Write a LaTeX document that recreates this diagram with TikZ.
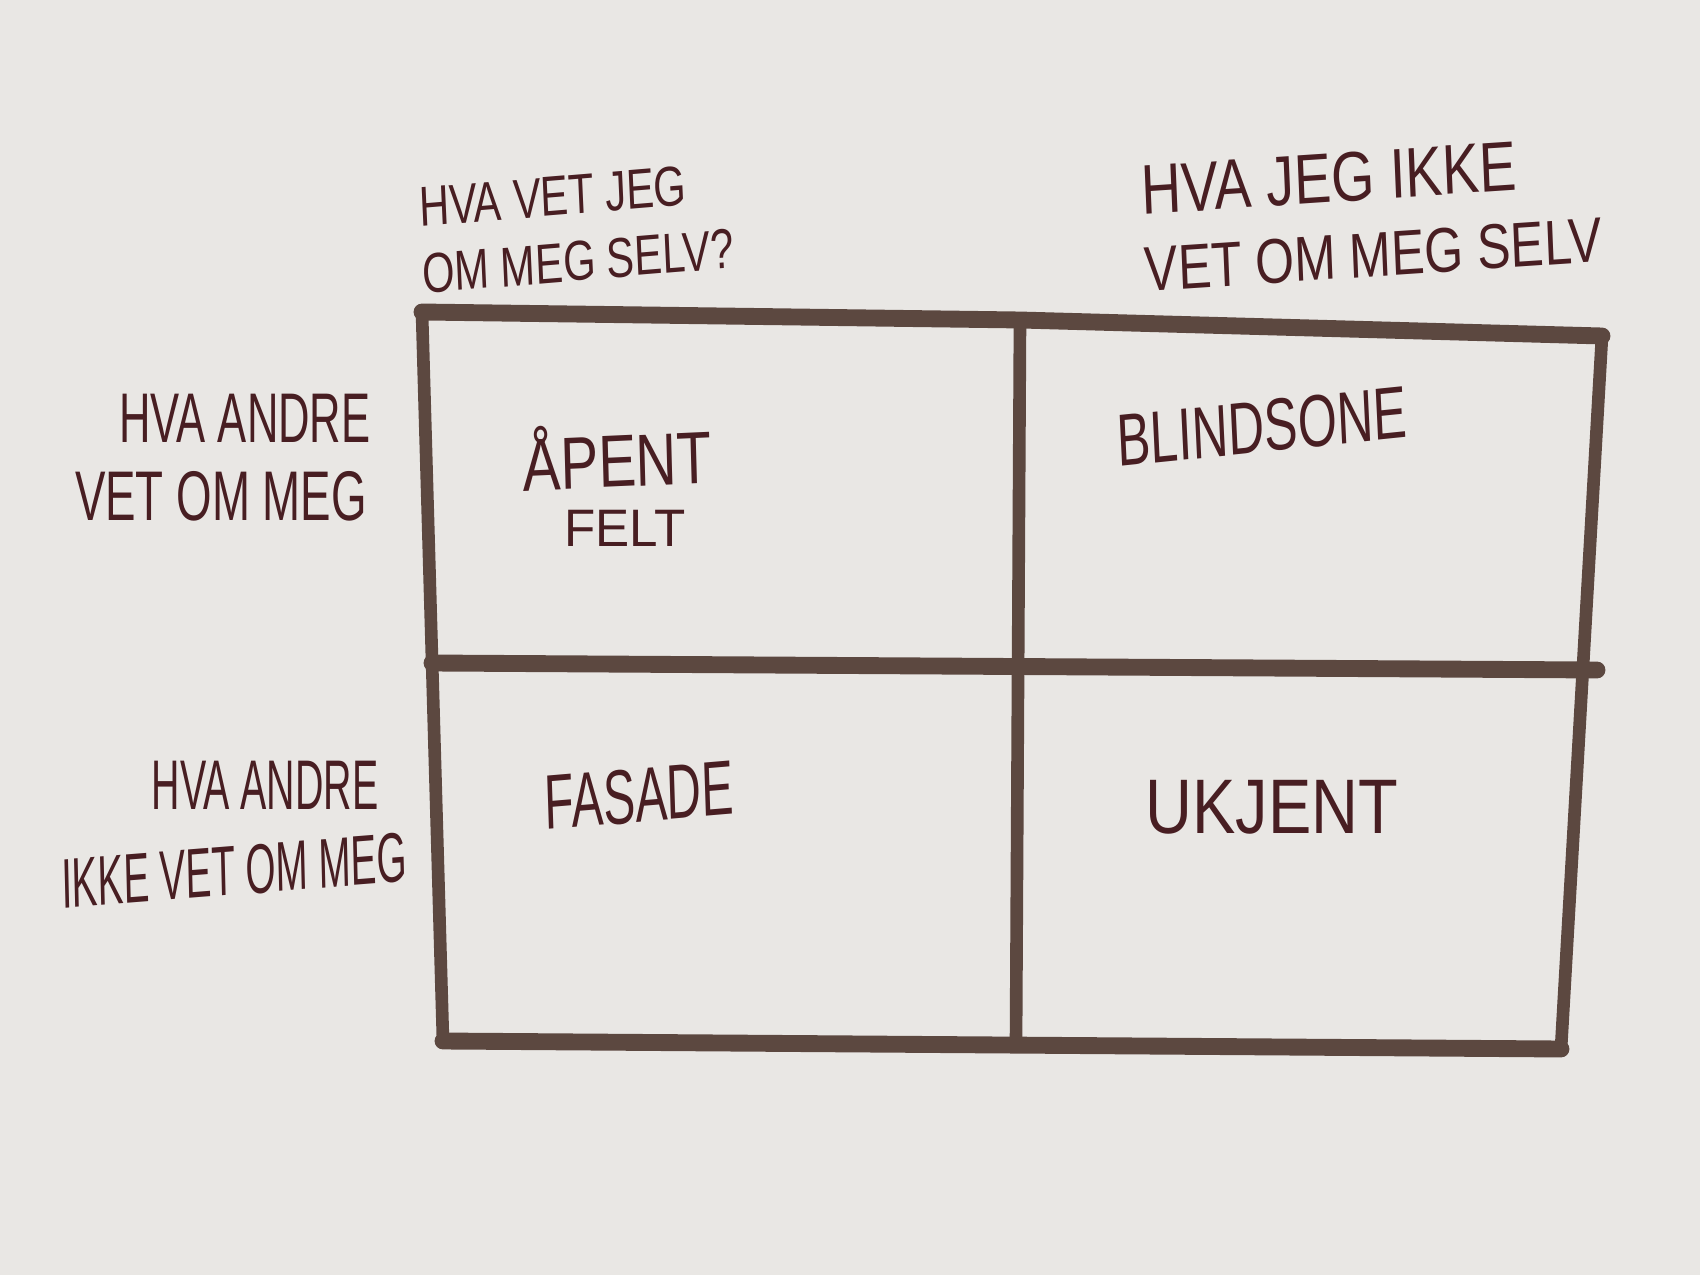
\documentclass[tikz,border=0pt]{standalone}
\usepackage{fontspec}
\setmainfont{Liberation Sans}
\definecolor{paper}{RGB}{233,231,228}
\definecolor{crayon}{RGB}{92,72,64}
\definecolor{ink}{RGB}{72,30,34}
\tikzset{
  marker/.style={line width=4.8pt,color=crayon,line cap=round},
  thinmarker/.style={marker,line width=3.6pt},
  hand/.style={text=ink,font=\fontsize{22}{26}\selectfont,anchor=base,
    inner sep=0pt,transform shape,xscale=#1},
  hand/.default=.62,
  smallhand/.style={font=\fontsize{#1}{#1}\selectfont}
}
\begin{document}
\begin{tikzpicture}[scale=1.0]
    \fill[paper] (0,0) rectangle (17,12.75);
    \useasboundingbox (0,0) rectangle (17,12.75);
    % corners of the window
    \coordinate (tl) at (4.22,9.63);
    \coordinate (tm) at (10.20,9.55);
    \coordinate (tr) at (16.02,9.39);
    \coordinate (ml) at (4.32,6.12);
    \coordinate (mr) at (15.97,6.05);
    \coordinate (bl) at (4.43,2.34);
    \coordinate (bm) at (10.16,2.30);
    \coordinate (br) at (15.61,2.26);
    \draw[thinmarker] (tl) -- (bl);
    \draw[thinmarker] (tm) -- (bm);
    \draw[thinmarker] (tr) -- (br);
    \draw[marker] (tl) -- (tm) -- (tr);
    \draw[marker] (ml) -- (mr);
    \draw[marker] (bl) -- (br);
    % column heads
    \node[hand=.74,font=\fontsize{16}{19}\selectfont,align=left,
      anchor=north west,rotate=3.5] (selfknown) at (4.18,10.88)
      {HVA VET JEG\\OM MEG SELV?};
    \node[hand=.79,font=\fontsize{18}{22}\selectfont,align=left,
      anchor=north west,rotate=3] (selfunknown) at (11.40,11.10)
      {{\fontsize{20}{22}\selectfont HVA JEG IKKE}\\VET OM MEG SELV};
    % row heads
    \node[hand,smallhand=20] (othersknown1) at (2.45,8.32) {HVA ANDRE};
    \node[hand=.65,smallhand=20] (othersknown2) at (2.21,7.55) {VET OM MEG};
    \node[hand=.56,smallhand=20] (othersunknown1) at (2.65,4.66) {HVA ANDRE};
    \node[hand=.55,smallhand=20,rotate=2.5] (othersunknown2) at (2.35,3.80) {IKKE VET OM MEG};
    % the four fields
    \node[hand=.77,smallhand=21,rotate=2] (open) at (6.18,7.88) {ÅPENT};
    \node[hand=.97,smallhand=15] (openb) at (6.25,7.28) {FELT};
    \node[hand=.68,smallhand=21,rotate=4] (blind) at (12.63,8.23) {BLINDSONE};
    \node[hand,rotate=3] (facade) at (6.40,4.53) {FASADE};
    \node[hand=.84] (unknown) at (12.72,4.42) {UKJENT};
  \end{tikzpicture}
\end{document}
